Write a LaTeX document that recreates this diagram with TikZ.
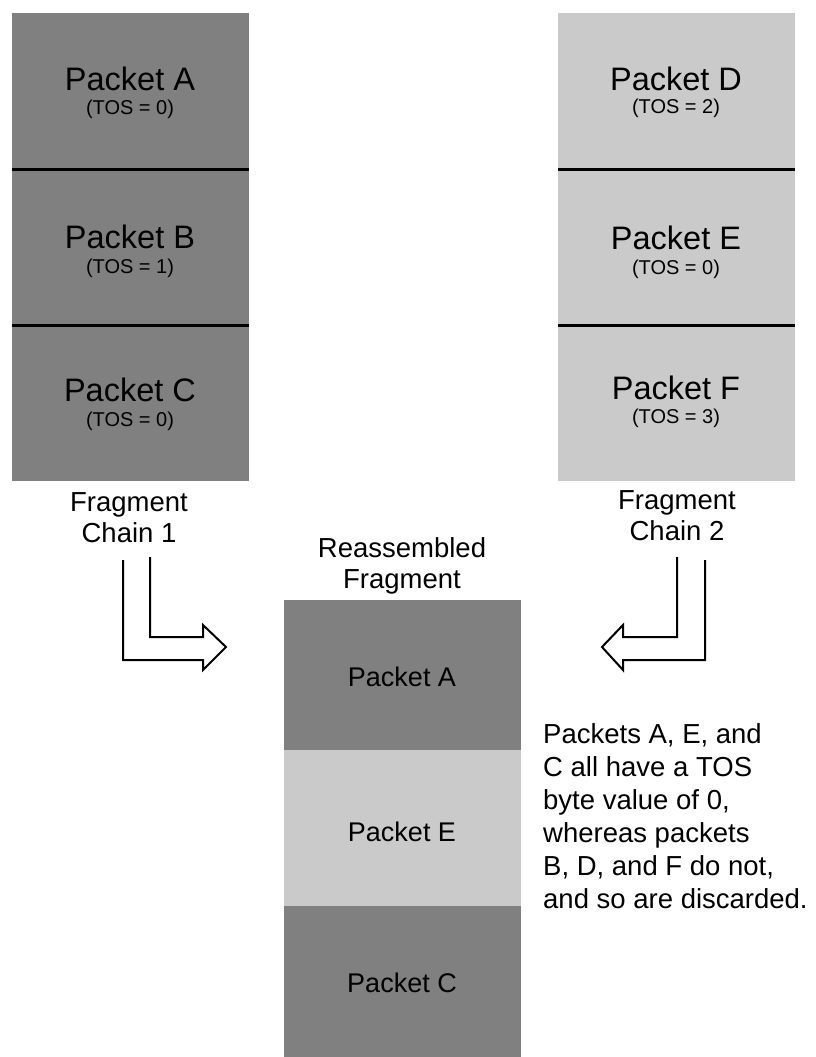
\documentclass[tikz,border=0pt]{standalone}
\usepackage{fontspec}
\setmainfont{Liberation Sans}
\usepackage{xcolor}
\usetikzlibrary{positioning}
\definecolor{pktdark}{HTML}{808080}
\definecolor{pktlight}{HTML}{CACACA}
\tikzset{
  seg/.style={minimum width=237pt, inner sep=0pt, outer sep=0pt},
  bigtxt/.style={inner sep=0pt, font=\fontsize{32.5}{36}\selectfont},
  tostxt/.style={inner sep=0pt, font=\fontsize{20}{24}\selectfont},
  midtxt/.style={inner sep=0pt, font=\fontsize{27}{30}\selectfont},
  captxt/.style={inner sep=0pt, align=center, anchor=north, font=\fontsize{27.5}{31}\selectfont},
  divider/.style={line width=3pt},
  hollow/.style={line width=2pt, line join=miter}
}

\begin{document}
\begin{tikzpicture}[x=1pt,y=-1pt]
\useasboundingbox (0,0) rectangle (815,1057);

% Fragment chain 1
\node[seg, minimum height=156pt, fill=pktdark, anchor=north] (pa) at (130,13) {};
\node[seg, minimum height=156pt, fill=pktdark, anchor=north] (pb) at (130,169) {};
\node[seg, minimum height=156pt, fill=pktdark, anchor=north] (pc) at (130,325) {};
\draw[divider] (pa.south west) -- (pa.south east);
\draw[divider] (pb.south west) -- (pb.south east);
\node[bigtxt] (la) at (130,79) {Packet A};
\node[tostxt] (ta) at (130,109) {(TOS = 0)};
\node[bigtxt] (lb) at (130,237) {Packet B};
\node[tostxt] (tb) at (130,268) {(TOS = 1)};
\node[bigtxt] (lc) at (130,390) {Packet C};
\node[tostxt] (tc) at (130,421) {(TOS = 0)};
\node[captxt] (ch1) at (129,492) {Fragment\\Chain 1};

% Fragment chain 2
\node[seg, minimum height=156pt, fill=pktlight, anchor=north] (pd) at (676,13) {};
\node[seg, minimum height=156pt, fill=pktlight, anchor=north] (pe) at (676,169) {};
\node[seg, minimum height=156pt, fill=pktlight, anchor=north] (pf) at (676,325) {};
\draw[divider] (pd.south west) -- (pd.south east);
\draw[divider] (pe.south west) -- (pe.south east);
\node[bigtxt] (ld) at (676,79) {Packet D};
\node[tostxt] (td) at (676,108) {(TOS = 2)};
\node[bigtxt] (le) at (676,238) {Packet E};
\node[tostxt] (te) at (676,269) {(TOS = 0)};
\node[bigtxt] (lf) at (676,388) {Packet F};
\node[tostxt] (tf) at (676,418) {(TOS = 3)};
\node[captxt] (ch2) at (677,490) {Fragment\\Chain 2};

% Reassembled fragment
\node[captxt] (rf) at (402,537) {Reassembled\\Fragment};
\node[seg, minimum height=150pt, fill=pktdark, anchor=north] (ra) at (402,600) {};
\node[seg, minimum height=156pt, fill=pktlight, anchor=north] (re) at (402,750) {};
\node[seg, minimum height=151pt, fill=pktdark, anchor=north] (rc) at (402,906) {};
\node[midtxt] (rla) at (402,677) {Packet A};
\node[midtxt] (rle) at (402,832) {Packet E};
\node[midtxt] (rlc) at (402,983) {Packet C};

% Hollow arrows
\draw[hollow] (123,560) -- (123,660) -- (203,660) -- (203,670) -- (226,647)
  -- (203,625) -- (203,637) -- (150,637) -- (150,557);
\draw[hollow] (705,560) -- (705,660) -- (623,660) -- (623,670) -- (602,647)
  -- (623,625) -- (623,637) -- (677,637) -- (677,557);

% Note
\node[inner sep=0pt, align=left, anchor=north west, font=\fontsize{27.5}{33}\selectfont] (note) at (543,723)
  {Packets A, E, and\\C all have a TOS\\byte value of 0,\\whereas packets\\B, D, and F do not,\\and so are discarded.};
\end{tikzpicture}
\end{document}
